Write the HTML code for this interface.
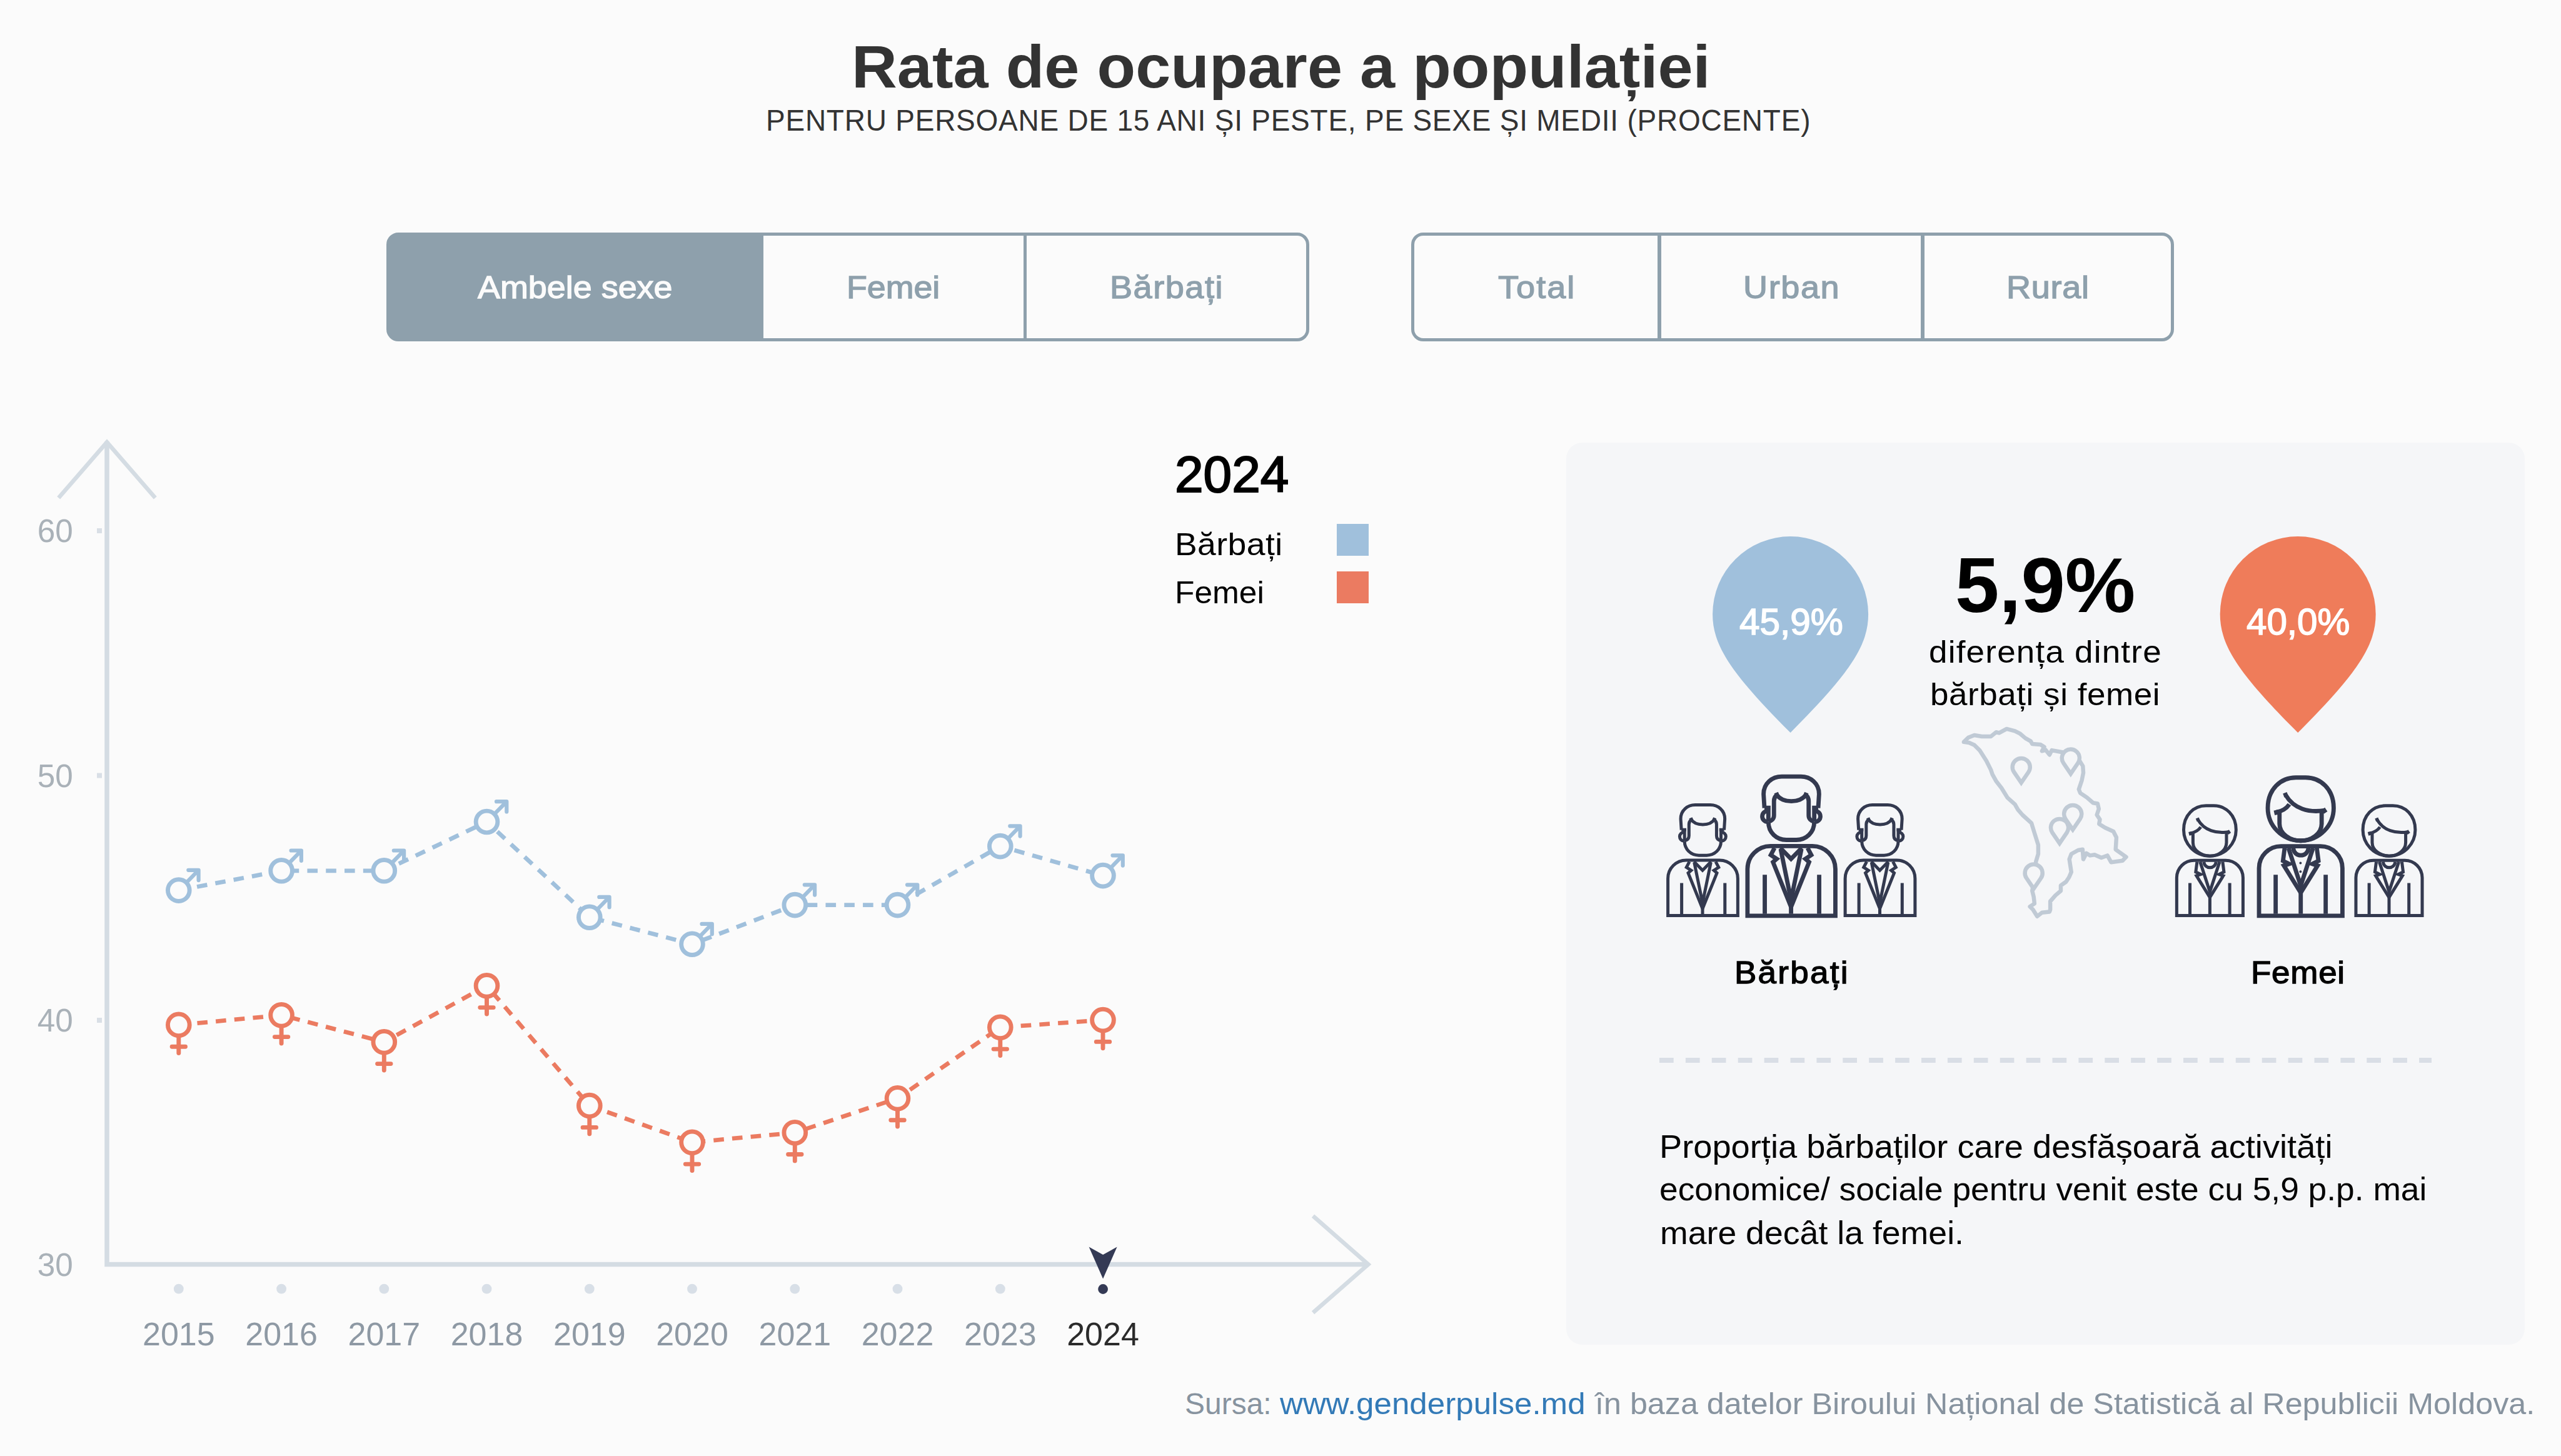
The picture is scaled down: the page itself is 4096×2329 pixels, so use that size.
<!DOCTYPE html>
<html lang="ro">
<head>
<meta charset="utf-8">
<title>Rata de ocupare a populației</title>
<style>
html,body{margin:0;padding:0;}
body{width:4096px;height:2329px;position:relative;overflow:hidden;background:#fbfbfb;font-family:"Liberation Sans",Arial,sans-serif;}
.t{position:absolute;white-space:nowrap;transform-origin:0 0;margin:0;padding:0;font-weight:400;}
.t a{color:#337ab7;text-decoration:none;}
.grp{position:absolute;top:372px;height:174.3px;}
.btn{position:absolute;top:0;height:174.3px;box-sizing:border-box;border:5.2px solid #8ea0ac;background:transparent;}
.btn.on{background:#8ea0ac;}
.btn.first{border-radius:19.2px 0 0 19.2px;}
.btn.last{border-radius:0 19.2px 19.2px 0;}
#panel{position:absolute;left:2504.7px;top:707.6px;width:1532.9px;height:1443.3px;border-radius:25.6px;background:#f5f6f8;}
svg{position:absolute;left:0;top:0;}
.sw{position:absolute;width:50.8px;height:50.8px;left:2138px;}
</style>
</head>
<body>
<div class="grp" style="left:618.3px;width:1475.3px">
<div class="btn on first" style="left:0.0px;width:602.3px"></div>
<div class="btn" style="left:597.1px;width:426.5px"></div>
<div class="btn last" style="left:1018.4px;width:456.9px"></div>
</div>
<div class="grp" style="left:2257px;width:1220px">
<div class="btn first" style="left:0.0px;width:399.6px"></div>
<div class="btn" style="left:394.4px;width:426.2px"></div>
<div class="btn last" style="left:815.4px;width:404.6px"></div>
</div>
<div id="panel"></div>
<svg id="chart" width="4096" height="2329" viewBox="0 0 4096 2329">
<g fill="none" stroke="#d4dce3" stroke-width="7.5">
<path d="M171,706 V2022.5 H2189"/>
</g>
<g fill="none" stroke="#d4dce3" stroke-width="6.6" stroke-linejoin="miter">
<path d="M93.7,796.4 L171,707.4 L248.3,796.4"/>
<path d="M2100,1945 L2188.4,2022.4 L2100,2099.8"/>
</g>
<rect x="155" y="845" width="8" height="8" fill="#d9dfe6"/>
<rect x="155" y="1236.5" width="8" height="8" fill="#d9dfe6"/>
<rect x="155" y="1628" width="8" height="8" fill="#d9dfe6"/>
<g font-family="'Liberation Sans',Arial,sans-serif" font-size="51.2" fill="#a9b1b8" text-anchor="end">
<text x="116.8" y="867.2" textLength="57" lengthAdjust="spacingAndGlyphs">60</text>
<text x="116.8" y="1258.7" textLength="57" lengthAdjust="spacingAndGlyphs">50</text>
<text x="116.8" y="1650.2" textLength="57" lengthAdjust="spacingAndGlyphs">40</text>
<text x="116.8" y="2040.7" textLength="57" lengthAdjust="spacingAndGlyphs">30</text>
</g>
<g fill="#d8dfe7">
<circle cx="285.8" cy="2061.7" r="7.9"/>
<circle cx="450.1" cy="2061.7" r="7.9"/>
<circle cx="614.3" cy="2061.7" r="7.9"/>
<circle cx="778.5" cy="2061.7" r="7.9"/>
<circle cx="942.8" cy="2061.7" r="7.9"/>
<circle cx="1107.0" cy="2061.7" r="7.9"/>
<circle cx="1271.3" cy="2061.7" r="7.9"/>
<circle cx="1435.5" cy="2061.7" r="7.9"/>
<circle cx="1599.8" cy="2061.7" r="7.9"/>
</g>
<g font-family="'Liberation Sans',Arial,sans-serif" font-size="52" fill="#8e99a4" text-anchor="middle">
<text x="285.8" y="2152.2" textLength="115.6" lengthAdjust="spacingAndGlyphs">2015</text>
<text x="450.1" y="2152.2" textLength="115.6" lengthAdjust="spacingAndGlyphs">2016</text>
<text x="614.3" y="2152.2" textLength="115.6" lengthAdjust="spacingAndGlyphs">2017</text>
<text x="778.5" y="2152.2" textLength="115.6" lengthAdjust="spacingAndGlyphs">2018</text>
<text x="942.8" y="2152.2" textLength="115.6" lengthAdjust="spacingAndGlyphs">2019</text>
<text x="1107.0" y="2152.2" textLength="115.6" lengthAdjust="spacingAndGlyphs">2020</text>
<text x="1271.3" y="2152.2" textLength="115.6" lengthAdjust="spacingAndGlyphs">2021</text>
<text x="1435.5" y="2152.2" textLength="115.6" lengthAdjust="spacingAndGlyphs">2022</text>
<text x="1599.8" y="2152.2" textLength="115.6" lengthAdjust="spacingAndGlyphs">2023</text>
<text x="1764.0" y="2152.2" textLength="115.6" lengthAdjust="spacingAndGlyphs" fill="#2b2b2b">2024</text>
</g>
<path d="M1741.6,1994.4 L1764.1,2007.1 L1786.6,1994.4 L1764.1,2045.5 Z" fill="#343a55"/>
<circle cx="1764.1" cy="2062" r="7.9" fill="#343a55"/>
<polyline points="285.8,1424.1 450.1,1392.8 614.3,1392.8 778.5,1314.5 942.8,1467.2 1107.0,1510.2 1271.3,1447.6 1435.5,1447.6 1599.8,1353.6 1764.0,1400.6" fill="none" stroke="#a0c0dc" stroke-width="6.8" stroke-dasharray="16.6 13.2"/>
<g fill="#fbfbfb" stroke="#a0c0dc" stroke-width="6.9" stroke-linecap="round" stroke-linejoin="round">
<g transform="translate(285.8,1424.1)"><path d="M12.3,-12.3 L31.5,-32 M15.5,-32.3 H31.8 V-16" fill="none" stroke-width="6.2"/><circle r="17.35"/></g>
<g transform="translate(450.1,1392.8)"><path d="M12.3,-12.3 L31.5,-32 M15.5,-32.3 H31.8 V-16" fill="none" stroke-width="6.2"/><circle r="17.35"/></g>
<g transform="translate(614.3,1392.8)"><path d="M12.3,-12.3 L31.5,-32 M15.5,-32.3 H31.8 V-16" fill="none" stroke-width="6.2"/><circle r="17.35"/></g>
<g transform="translate(778.5,1314.5)"><path d="M12.3,-12.3 L31.5,-32 M15.5,-32.3 H31.8 V-16" fill="none" stroke-width="6.2"/><circle r="17.35"/></g>
<g transform="translate(942.8,1467.2)"><path d="M12.3,-12.3 L31.5,-32 M15.5,-32.3 H31.8 V-16" fill="none" stroke-width="6.2"/><circle r="17.35"/></g>
<g transform="translate(1107.0,1510.2)"><path d="M12.3,-12.3 L31.5,-32 M15.5,-32.3 H31.8 V-16" fill="none" stroke-width="6.2"/><circle r="17.35"/></g>
<g transform="translate(1271.3,1447.6)"><path d="M12.3,-12.3 L31.5,-32 M15.5,-32.3 H31.8 V-16" fill="none" stroke-width="6.2"/><circle r="17.35"/></g>
<g transform="translate(1435.5,1447.6)"><path d="M12.3,-12.3 L31.5,-32 M15.5,-32.3 H31.8 V-16" fill="none" stroke-width="6.2"/><circle r="17.35"/></g>
<g transform="translate(1599.8,1353.6)"><path d="M12.3,-12.3 L31.5,-32 M15.5,-32.3 H31.8 V-16" fill="none" stroke-width="6.2"/><circle r="17.35"/></g>
<g transform="translate(1764.0,1400.6)"><path d="M12.3,-12.3 L31.5,-32 M15.5,-32.3 H31.8 V-16" fill="none" stroke-width="6.2"/><circle r="17.35"/></g>
</g>
<polyline points="285.8,1639.4 450.1,1623.8 614.3,1666.8 778.5,1576.8 942.8,1768.6 1107.0,1827.3 1271.3,1811.7 1435.5,1756.9 1599.8,1643.3 1764.0,1631.6" fill="none" stroke="#eb7b61" stroke-width="6.8" stroke-dasharray="16.6 13.2"/>
<g fill="#fbfbfb" stroke="#eb7b61" stroke-width="6.9" stroke-linecap="round" stroke-linejoin="round">
<g transform="translate(285.8,1639.4)"><path d="M0,17 V45.2 M-10.7,34.8 H10.7" fill="none"/><circle r="17.35"/></g>
<g transform="translate(450.1,1623.8)"><path d="M0,17 V45.2 M-10.7,34.8 H10.7" fill="none"/><circle r="17.35"/></g>
<g transform="translate(614.3,1666.8)"><path d="M0,17 V45.2 M-10.7,34.8 H10.7" fill="none"/><circle r="17.35"/></g>
<g transform="translate(778.5,1576.8)"><path d="M0,17 V45.2 M-10.7,34.8 H10.7" fill="none"/><circle r="17.35"/></g>
<g transform="translate(942.8,1768.6)"><path d="M0,17 V45.2 M-10.7,34.8 H10.7" fill="none"/><circle r="17.35"/></g>
<g transform="translate(1107.0,1827.3)"><path d="M0,17 V45.2 M-10.7,34.8 H10.7" fill="none"/><circle r="17.35"/></g>
<g transform="translate(1271.3,1811.7)"><path d="M0,17 V45.2 M-10.7,34.8 H10.7" fill="none"/><circle r="17.35"/></g>
<g transform="translate(1435.5,1756.9)"><path d="M0,17 V45.2 M-10.7,34.8 H10.7" fill="none"/><circle r="17.35"/></g>
<g transform="translate(1599.8,1643.3)"><path d="M0,17 V45.2 M-10.7,34.8 H10.7" fill="none"/><circle r="17.35"/></g>
<g transform="translate(1764.0,1631.6)"><path d="M0,17 V45.2 M-10.7,34.8 H10.7" fill="none"/><circle r="17.35"/></g>
</g>
</svg>
<div class="sw" style="top:838.1px;background:#a0c0dc"></div>
<div class="sw" style="top:914.3px;background:#eb7b61"></div>
<svg id="pg" width="4096" height="2329" viewBox="0 0 4096 2329">
<defs><g id="man" fill="none" stroke="#33394f" stroke-linejoin="miter">
<path d="M85,1370 V943 A210,210 0 0 1 295,733 H678 A210,210 0 0 1 888,943 V1370 Z"/>
<path d="M243,995 V1352 M740,995 V1352 M483,1200 V1352"/>
<path d="M332,750 L298,815 L352,850 L318,880 L483,1290 L648,880 L614,850 L668,815 L634,750"/>
<path d="M385,750 L483,850 L581,750"/>
<path d="M388,760 L483,1225 L578,760"/>
<path d="M240,386 L232,258 C232,160 310,98 398,98 H573 C661,98 739,160 739,258 L731,386"/>
<path d="M240,383 H296 M276,381 V513 M731,383 H675 M695,381 V513"/>
<path d="M270,412 A50,50 0 1 0 270,512 M701,412 A50,50 0 1 1 701,512"/>
<path d="M352,263 C400,344 571,344 619,263"/>
<path d="M334,266 L370,252 M637,266 L601,252" stroke-width="28"/>
<path d="M352,266 C332,285 327,300 327,320 V452 C327,485 305,503 280,508 M619,266 C639,285 644,300 644,320 V452 C644,485 666,503 691,508"/>
<path d="M276,513 C276,610 350,677 440,677 H531 C621,677 695,610 695,513"/>
</g><g id="woman" fill="none" stroke="#33394f" stroke-linejoin="miter">
<path d="M103,1370 V935 A200,200 0 0 1 303,735 H665 A200,200 0 0 1 865,935 V1370 Z"/>
<path d="M255,995 V1352 M712,995 V1352 M484,1130 V1352"/>
<path d="M337,752 L322,868 L378,896 L330,912 L484,1160 L638,912 L590,896 L646,868 L631,752"/>
<path d="M372,752 L484,1095 L596,752"/>
<path d="M415,752 C425,840 545,840 555,752"/>
<path d="M183,385 C183,215 300,107 440,107 H528 C668,107 785,215 785,385 C785,540 660,684 484,684 C308,684 183,540 183,385 Z"/>
<path d="M290,425 V530 C290,620 385,684 484,684 C583,684 675,620 675,530 V425"/>
<path d="M345,265 C420,395 560,430 700,408"/>
<path d="M328,272 L364,258 M688,393 L712,428"/>
<path d="M380,352 C350,395 310,415 260,425"/>
<path d="M256,405 L266,447"/>
</g></defs>
<path fill="#a0c0dc" d="M2863.6,1172 C2768.6,1077 2739.1,1032.5 2739.1,982.5 A124.5,124.5 0 0 1 2988.1,982.5 C2988.1,1032.5 2958.6,1077 2863.6,1172 Z"/>
<path fill="#ef7c5a" d="M3675.2,1172 C3580.2,1077 3550.7,1032.5 3550.7,982.5 A124.5,124.5 0 0 1 3799.7,982.5 C3799.7,1032.5 3770.2,1077 3675.2,1172 Z"/>
<use href="#man" stroke-width="39" transform="translate(2780,1225) scale(0.17507)"/>
<use href="#man" stroke-width="36" transform="translate(2723.5,1467.4) scale(0.13918065000000002) translate(-486.5,-1390)"/>
<use href="#man" stroke-width="36" transform="translate(3007,1467.4) scale(0.13918065000000002) translate(-486.5,-1390)"/>
<use href="#woman" stroke-width="39" transform="translate(3595,1225) scale(0.17507)"/>
<g transform="translate(3595,1225) scale(0.17507)" fill="#33394f"><circle cx="482" cy="888" r="11"/><circle cx="482" cy="967" r="11"/></g>
<use href="#woman" stroke-width="36" transform="translate(3534.4,1467.4) scale(0.13918065000000002) translate(-484,-1390)"/>
<use href="#woman" stroke-width="36" transform="translate(3821,1467.4) scale(0.13918065000000002) translate(-484,-1390)"/>
<g transform="translate(3100,1140) scale(0.24044)" fill="#f5f6f8" stroke="#c0cad5" stroke-width="27" stroke-linejoin="miter" stroke-miterlimit="6">
<path d="M170,195 L200,165 L240,150 L290,158 L350,158 L385,130 L405,135 L455,108 L510,122 L545,140 L580,170 L615,190 L625,208 L680,212 L705,228 L690,255 L715,248 L740,280 L755,250 L820,262 L900,275 L940,320 L962,355 L965,400 L955,450 L935,510 L945,535 L990,565 L1030,600 L1060,605 L1068,640 L1055,680 L1075,710 L1070,740 L1110,765 L1165,790 L1185,830 L1180,910 L1250,960 L1225,985 L1150,995 L1125,950 L1085,965 L1040,945 L1010,950 L985,935 L965,975 L960,910 L930,915 L885,940 L872,975 L885,1060 L870,1095 L850,1125 L815,1150 L815,1185 L780,1215 L745,1255 L745,1310 L740,1325 L690,1330 L658,1355 L630,1310 L610,1290 L640,1270 L635,1225 L625,1185 L640,1100 L650,990 L665,940 L665,880 L640,800 L620,735 L560,680 L530,645 L510,610 L460,565 L420,500 L385,455 L360,410 L350,380 L320,320 L275,250 L240,215 L205,200 Z" fill="none" stroke-linejoin="round"/>
<path d="M552,466 L503.6,394.9 A58.5,58.5 0 1 1 600.4,394.9 Z"/>
<path d="M881,406 L832.6,334.9 A58.5,58.5 0 1 1 929.4,334.9 Z"/>
<path d="M807,869 L758.6,797.9 A58.5,58.5 0 1 1 855.4,797.9 Z"/>
<path d="M895,778 L846.6,706.9 A58.5,58.5 0 1 1 943.4,706.9 Z"/>
<path d="M635,1171 L586.6,1099.9 A58.5,58.5 0 1 1 683.4,1099.9 Z"/>
</g>
<line x1="2654" y1="1696" x2="3889" y2="1696" stroke="#d9dee6" stroke-width="8" stroke-dasharray="22.7 19.2"/>
</svg>
<h1 class="t" id="title" style="left:1362.4px;top:58.7px;font-size:96px;line-height:96px;color:#333333;transform:scaleX(1.0510);font-weight:700;">Rata de ocupare a populației</h1>
<h2 class="t" id="subtitle" style="left:1224.6px;top:169.4px;font-size:48px;line-height:48px;color:#333333;transform:scaleX(0.9582);letter-spacing:0.80px;">PENTRU PERSOANE DE 15 ANI ȘI PESTE, PE SEXE ȘI MEDII (PROCENTE)</h2>
<div class="t" id="b1" style="left:763.8px;top:435.3px;font-size:50.5px;line-height:50.5px;color:#fbfbfb;transform:scaleX(1.0671);-webkit-text-stroke:1.31px #fbfbfb;">Ambele sexe</div>
<div class="t" id="b2" style="left:1353.6px;top:435.3px;font-size:50.5px;line-height:50.5px;color:#8ea0ac;transform:scaleX(1.0640);-webkit-text-stroke:1.31px #8ea0ac;">Femei</div>
<div class="t" id="b3" style="left:1775.1px;top:435.3px;font-size:50.5px;line-height:50.5px;color:#8ea0ac;transform:scaleX(1.0700);-webkit-text-stroke:1.31px #8ea0ac;letter-spacing:1.45px;">Bărbați</div>
<div class="t" id="b4" style="left:2395.5px;top:435.3px;font-size:50.5px;line-height:50.5px;color:#8ea0ac;transform:scaleX(1.0700);-webkit-text-stroke:1.31px #8ea0ac;letter-spacing:1.91px;">Total</div>
<div class="t" id="b5" style="left:2787.6px;top:435.3px;font-size:50.5px;line-height:50.5px;color:#8ea0ac;transform:scaleX(1.0700);-webkit-text-stroke:1.31px #8ea0ac;letter-spacing:1.50px;">Urban</div>
<div class="t" id="b6" style="left:3208.8px;top:435.3px;font-size:50.5px;line-height:50.5px;color:#8ea0ac;transform:scaleX(1.0700);-webkit-text-stroke:1.31px #8ea0ac;letter-spacing:0.68px;">Rural</div>
<div class="t" id="lg2024" style="left:1879.2px;top:718.0px;font-size:81.5px;line-height:81.5px;color:#000000;transform:scaleX(1.0062);-webkit-text-stroke:2.12px #000000;">2024</div>
<div class="t" id="lgB" style="left:1879.0px;top:846.2px;font-size:50px;line-height:50px;color:#000000;transform:scaleX(1.0700);letter-spacing:0.40px;">Bărbați</div>
<div class="t" id="lgF" style="left:1879.3px;top:922.5px;font-size:50px;line-height:50px;color:#000000;transform:scaleX(1.0280);">Femei</div>
<div class="t" id="pinB" style="left:2782.1px;top:966.0px;font-size:59px;line-height:59px;color:#ffffff;transform:scaleX(0.9912);-webkit-text-stroke:1.53px #ffffff;">45,9%</div>
<div class="t" id="pinF" style="left:3592.6px;top:966.0px;font-size:59px;line-height:59px;color:#ffffff;transform:scaleX(0.9882);-webkit-text-stroke:1.53px #ffffff;">40,0%</div>
<div class="t" id="diff" style="left:3127.4px;top:875.0px;font-size:123.5px;line-height:123.5px;color:#000000;transform:scaleX(1.0240);font-weight:700;">5,9%</div>
<div class="t" id="d1" style="left:3084.7px;top:1017.6px;font-size:49.5px;line-height:49.5px;color:#000000;transform:scaleX(1.0700);letter-spacing:1.14px;">diferența dintre</div>
<div class="t" id="d2" style="left:3087.3px;top:1086.0px;font-size:49.5px;line-height:49.5px;color:#000000;transform:scaleX(1.0700);letter-spacing:0.52px;">bărbați și femei</div>
<div class="t" id="labB" style="left:2774.4px;top:1531.0px;font-size:49.5px;line-height:49.5px;color:#000000;transform:scaleX(1.0700);-webkit-text-stroke:1.29px #000000;letter-spacing:2.12px;">Bărbați</div>
<div class="t" id="labF" style="left:3600.4px;top:1530.9px;font-size:49.5px;line-height:49.5px;color:#000000;transform:scaleX(1.0700);-webkit-text-stroke:1.29px #000000;letter-spacing:0.69px;">Femei</div>
<p class="t" id="p1" style="left:2654.0px;top:1808.7px;font-size:51.2px;line-height:51.2px;color:#050505;transform:scaleX(1.0598);">Proporția bărbaților care desfășoară activități</p>
<p class="t" id="p2" style="left:2654.0px;top:1877.3px;font-size:51.2px;line-height:51.2px;color:#050505;transform:scaleX(1.0419);">economice/ sociale pentru venit este cu 5,9 p.p. mai</p>
<p class="t" id="p3" style="left:2654.5px;top:1946.7px;font-size:51.2px;line-height:51.2px;color:#050505;transform:scaleX(1.0479);">mare decât la femei.</p>
<div class="t" id="src1" style="left:1895.2px;top:2222.4px;font-size:48px;line-height:48px;color:#87939f;transform:scaleX(0.9993);">Sursa:</div>
<div class="t" id="src2" style="left:2046.7px;top:2222.4px;font-size:48px;line-height:48px;color:#337ab7;transform:scaleX(1.0647);"><a>www.genderpulse.md</a></div>
<div class="t" id="src3" style="left:2550.6px;top:2222.4px;font-size:48px;line-height:48px;color:#87939f;transform:scaleX(1.0472);">în baza datelor Biroului Național de Statistică al Republicii Moldova.</div>
</body>
</html>
